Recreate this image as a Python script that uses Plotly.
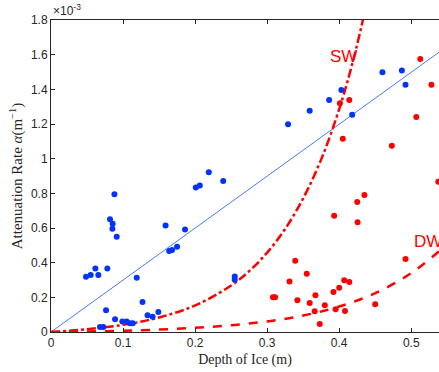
import plotly.graph_objects as go

# Blue measurements (depth m, attenuation x1e-3 1/m)
blue_x = [0.0486, 0.0551, 0.0616, 0.0657, 0.0782, 0.0819, 0.0856, 0.0852, 0.088, 0.0912,
          0.0764, 0.068, 0.0727, 0.0889, 0.099, 0.105, 0.1097, 0.1134, 0.119, 0.127,
          0.134, 0.141, 0.149, 0.159, 0.164, 0.168, 0.175, 0.186, 0.201, 0.2065,
          0.219, 0.239, 0.255, 0.255, 0.329, 0.359, 0.386, 0.403, 0.418, 0.460,
          0.487, 0.492]
blue_y = [0.319, 0.329, 0.367, 0.329, 0.367, 0.650, 0.625, 0.596, 0.794, 0.550,
          0.125, 0.029, 0.029, 0.073, 0.060, 0.060, 0.050, 0.050, 0.313, 0.173,
          0.096, 0.088, 0.115, 0.615, 0.467, 0.473, 0.492, 0.592, 0.833, 0.845,
          0.921, 0.871, 0.320, 0.302, 1.198, 1.277, 1.339, 1.396, 1.254, 1.498,
          1.508, 1.427]

# Red measurements
red_x = [0.5125, 0.528, 0.401, 0.414, 0.405, 0.507, 0.473, 0.5375, 0.435, 0.425,
         0.4255, 0.393, 0.492, 0.339, 0.355, 0.331, 0.407, 0.414, 0.400, 0.392,
         0.308, 0.311, 0.367, 0.342, 0.359, 0.380, 0.366, 0.395, 0.408, 0.450, 0.373]
red_y = [1.575, 1.427, 1.319, 1.339, 1.115, 1.240, 1.075, 0.867, 0.790, 0.750,
         0.633, 0.671, 0.421, 0.411, 0.336, 0.292, 0.298, 0.288, 0.256, 0.231,
         0.200, 0.200, 0.212, 0.183, 0.167, 0.154, 0.119, 0.131, 0.121, 0.160, 0.046]

# Linear fit line (read endpoints)
fit_x = [0.0, 0.5385]
fit_y = [0.0, 1.614]

# SW curve
sw_x = [0.0, 0.05, 0.1, 0.15, 0.2, 0.25, 0.275, 0.3, 0.325, 0.35, 0.375, 0.4, 0.42, 0.44]
sw_y = [0.0, 0.016, 0.041, 0.084, 0.153, 0.268, 0.351, 0.458, 0.595, 0.771, 0.996, 1.286, 1.577, 1.931]

# DW curve
dw_x = [0.0, 0.05, 0.1, 0.15, 0.2, 0.25, 0.3, 0.35, 0.4, 0.45, 0.5, 0.5385]
dw_y = [0.0, 0.003, 0.007, 0.014, 0.024, 0.039, 0.061, 0.095, 0.147, 0.224, 0.340, 0.466]

x_ticks = [0, 0.1, 0.2, 0.3, 0.4, 0.5]
x_tick_labels = ["0", "0.1", "0.2", "0.3", "0.4", "0.5"]
y_ticks = [0, 0.2, 0.4, 0.6, 0.8, 1.0, 1.2, 1.4, 1.6, 1.8]
y_tick_labels = ["0", "0.2", "0.4", "0.6", "0.8", "1", "1.2", "1.4", "1.6", "1.8"]

RED = "#FF0000"
BLUE = "#0033FF"
AX = "#262626"
SERIF = "Liberation Serif"

fig = go.Figure()
fig.add_trace(go.Scatter(x=fit_x, y=fit_y, mode="lines",
                         line=dict(color="#4A78FF", width=1), hoverinfo="skip"))
fig.add_trace(go.Scatter(x=sw_x, y=sw_y, mode="lines", line_shape="spline",
                         line=dict(color=RED, width=2.5, dash="dashdot")))
fig.add_trace(go.Scatter(x=dw_x, y=dw_y, mode="lines", line_shape="spline",
                         line=dict(color=RED, width=2.5, dash="dash")))
fig.add_trace(go.Scatter(x=blue_x, y=blue_y, mode="markers",
                         marker=dict(color=BLUE, size=6)))
fig.add_trace(go.Scatter(x=red_x, y=red_y, mode="markers",
                         marker=dict(color=RED, size=6)))

fig.add_annotation(x=0.385, y=1.59, text="SW", showarrow=False, xanchor="left",
                   yanchor="middle", font=dict(color=RED, size=17, family="Liberation Sans"))
fig.add_annotation(x=0.501, y=0.525, text="DW", showarrow=False, xanchor="left",
                   yanchor="middle", font=dict(color=RED, size=17, family="Liberation Sans"))
fig.add_annotation(xref="paper", yref="paper", x=0.0, y=1.0, yshift=0,
                   text="×10<sup>-3</sup>", showarrow=False, xanchor="left", yanchor="bottom",
                   font=dict(color=AX, size=12, family="Liberation Sans"))

fig.update_layout(
    width=439, height=372,
    margin=dict(l=51, r=0, t=20, b=40, autoexpand=False),
    plot_bgcolor="white", paper_bgcolor="white",
    showlegend=False,
    font=dict(family="Liberation Sans", size=12, color=AX),
)
fig.update_xaxes(range=[0, 0.5385], tickvals=x_ticks, ticktext=x_tick_labels,
                 showgrid=False, zeroline=False, showline=True, linecolor=AX,
                 linewidth=1, mirror="ticks", ticks="inside", ticklen=4,
                 tickcolor=AX, automargin=False,
                 title=dict(text="Depth of Ice (m)", standoff=4,
                            font=dict(family=SERIF, size=14, color=AX)))
fig.update_yaxes(range=[0, 1.8], tickvals=y_ticks, ticktext=y_tick_labels,
                 showgrid=False, zeroline=False, showline=True, linecolor=AX,
                 linewidth=1, mirror=False, ticks="inside", ticklen=4,
                 tickcolor=AX, automargin=False,
                 title=dict(text="Attenuation Rate <i>α</i>(m<sup>−1</sup>)", standoff=4,
                            font=dict(family=SERIF, size=15, color=AX)))

fig.write_html("out.html", config={"displayModeBar": False},
               post_script="document.body.style.margin='0';document.body.style.overflow='hidden';")
